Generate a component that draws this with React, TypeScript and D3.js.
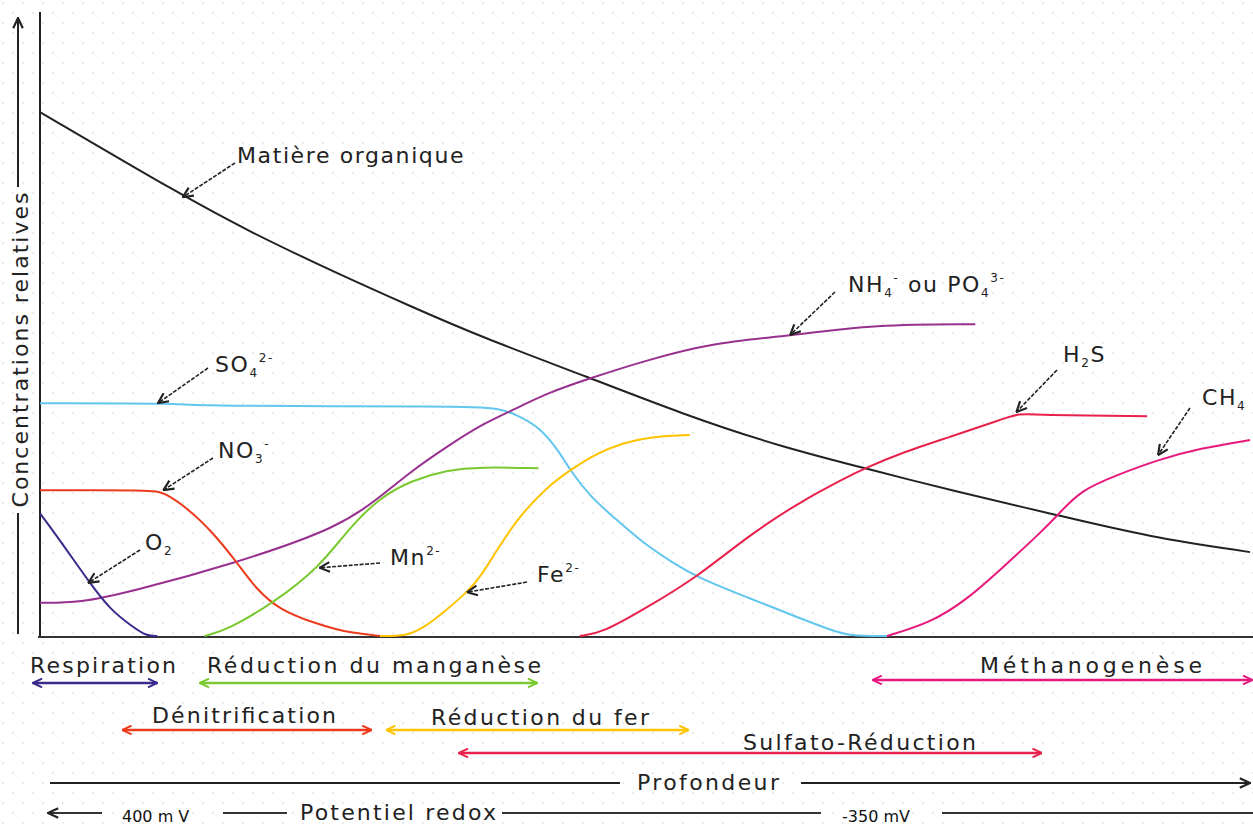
import React, { useEffect, useRef } from 'react';
import * as d3 from 'd3';

// profondeur relative (0-100) -> concentration relative (0-100)
const matiereOrganique = [[0, 83.7], [11.8, 70.3], [17.4, 64.5], [24.8, 57.7], [30.6, 52.7], [36.4, 47.8], [45.5, 41.2], [52.9, 35.6], [61.2, 30.2], [69.4, 26.2], [75.2, 23.3], [84.1, 19.3], [91.7, 15.8], [100, 13.4]];
const sulfate = [[0, 37.2], [12, 37.2], [12.4, 36.7], [35, 36.7], [38, 36.4], [39.4, 35.3], [41.3, 33.4], [43, 29.2], [43.8, 26.5], [45.5, 22.2], [47.4, 19.0], [49.8, 14.9], [52.3, 11.7], [54.3, 9.4], [58.4, 6.2], [62.6, 3.0], [65.3, 1.0], [66.9, 0], [70, 0]];
const nitrate = [[0, 23.3], [9.3, 23.3], [10.2, 23.0], [12.4, 20.1], [14.3, 16.5], [16.3, 11.7], [17.9, 7.4], [19.8, 4.2], [22.6, 2.1], [24.6, 1.0], [25.6, 0.6], [28.1, 0]];
const oxygene = [[0, 19.6], [1.65, 15.3], [4.1, 8.5], [5.8, 4.2], [7.7, 1.4], [8.8, 0], [9.7, 0]];
const ammonium = [[0, 5.3], [3.3, 5.3], [7.4, 7.0], [16.3, 11.7], [24.8, 17.4], [28.1, 22.2], [30.8, 26.5], [33.6, 30.2], [36.4, 33.7], [39.1, 36.1], [41.9, 38.8], [45.5, 41.2], [50.2, 44.1], [55.6, 46.8], [61.2, 47.8], [69.2, 49.8], [77.3, 49.8]];
const manganese = [[13.6, 0], [15.5, 1.0], [19.3, 5.3], [23.1, 11.0], [25.4, 16.9], [28.1, 22.2], [30.8, 24.9], [33.6, 26.5], [36.4, 27.0], [41.2, 26.8]];
const fer = [[28.1, 0], [30.3, 0], [31.7, 1.3], [33.3, 3.7], [35.3, 7.0], [36.4, 9.4], [38, 14.5], [39.7, 19.3], [41.9, 23.8], [43.8, 26.5], [46, 29.2], [48.2, 30.8], [50.2, 31.8], [53.7, 32.1]];
const sulfure = [[44.6, 0], [46.5, 0.5], [50.2, 4.6], [54.3, 9.4], [58.4, 15.8], [62.6, 21.2], [66.7, 25.4], [68.2, 26.8], [71.1, 29.2], [75.2, 31.8], [79.3, 34.5], [81, 35.6], [82.2, 35.3], [91.5, 35.1]];
const methane = [[70, 0], [73.6, 2.1], [76.6, 5.8], [79.6, 11.0], [82.9, 16.9], [84.1, 19.3], [86, 23.3], [89, 25.7], [92.3, 28.1], [95.9, 30], [100, 31.3]];

// points désignés par les flèches (sur les courbes)
const pointes = [[11.8, 70.1], [9.75, 37.2], [10.2, 23.3], [4.0, 8.5], [23.1, 10.9], [35.3, 7.0], [62.0, 48.1], [80.7, 35.8], [92.4, 28.9]];

// processus et leur étendue en profondeur
const processus = ['Respiration', 'Réduction du manganèse', 'Dénitrification', 'Réduction du fer', 'Sulfato-Réduction', 'Méthanogenèse'];
const debut = [-0.6, 13.2, 6.8, 28.6, 34.6, 68.8];
const fin = [9.7, 41.1, 27.4, 53.6, 82.8, 100.2];

const W = 1253, H = 827;
const FONT = '"DejaVu Sans", Verdana, sans-serif';

const Diagramme = () => {
    const ref = useRef<SVGSVGElement | null>(null);

    useEffect(() => {
        const svg = d3.select(ref.current);
        svg.selectAll('*').remove();

        var x = d3.scaleLinear().domain([0, 100]).range([40, 1250]);
        var y = d3.scaleLinear().domain([0, 100]).range([636, 10]);

        const defs = svg.append('defs');

        // fond pointillé
        const pat = defs.append('pattern').attr('id', 'dots')
            .attr('width', 20).attr('height', 20).attr('patternUnits', 'userSpaceOnUse');
        pat.append('circle').attr('cx', 3).attr('cy', 3).attr('r', 0.9).attr('fill', '#e2e2e2');
        pat.append('circle').attr('cx', 13).attr('cy', 13).attr('r', 0.9).attr('fill', '#e2e2e2');
        svg.append('rect').attr('width', W).attr('height', H).attr('fill', '#fff');
        svg.append('rect').attr('width', W).attr('height', H).attr('fill', 'url(#dots)');

        // markers
        const mk = (id: string, color: string, size: number) => {
            defs.append('marker').attr('id', id)
                .attr('viewBox', '0 0 10 10').attr('refX', 9.5).attr('refY', 5)
                .attr('markerUnits', 'userSpaceOnUse')
                .attr('markerWidth', size).attr('markerHeight', size)
                .attr('orient', 'auto-start-reverse')
                .append('path').attr('d', 'M1,1 L9.5,5 L1,9')
                .attr('fill', 'none').attr('stroke', color).attr('stroke-width', 1.8);
        };
        mk('fl-noir', '#222', 12);

        //////////
        // AXES //
        //////////
        svg.append('line').attr('x1', x(0)).attr('x2', x(0)).attr('y1', 12).attr('y2', 637)
            .attr('stroke', '#222').attr('stroke-width', 2);
        svg.append('line').attr('x1', x(0) - 2).attr('x2', W).attr('y1', 637).attr('y2', 637)
            .attr('stroke', '#333').attr('stroke-width', 2);

        // titre axe vertical
        svg.append('text')
            .attr('transform', 'translate(28,350) rotate(-90)')
            .attr('text-anchor', 'middle')
            .attr('font-family', FONT).attr('font-size', 22).attr('fill', '#222')
            .attr('textLength', 315).attr('lengthAdjust', 'spacing')
            .text('Concentrations relatives');
        svg.append('line').attr('x1', 18).attr('x2', 18).attr('y1', 187).attr('y2', 18)
            .attr('stroke', '#222').attr('stroke-width', 2).attr('marker-end', 'url(#fl-noir)');
        svg.append('line').attr('x1', 18).attr('x2', 18).attr('y1', 513).attr('y2', 634)
            .attr('stroke', '#222').attr('stroke-width', 2);

        ////////////
        // COURBES //
        ////////////
        const line = d3.line<number[]>()
            .x(d => x(d[0]))
            .y(d => y(d[1]))
            .curve(d3.curveBasis);

        const series: [number[][], string][] = [
            [matiereOrganique, '#222222'],
            [sulfate, '#62c6ee'],
            [ammonium, '#98308f'],
            [nitrate, '#ec3b1c'],
            [oxygene, '#3b2a8c'],
            [manganese, '#7bc930'],
            [fer, '#ffc300'],
            [sulfure, '#e8224c'],
            [methane, '#e8197c'],
        ];
        series.forEach(([data, color]) => {
            svg.append('path')
                .datum(data)
                .attr('fill', 'none')
                .attr('stroke', color)
                .attr('stroke-width', 2)
                .attr('d', line);
        });

        //////////////
        // ETIQUETTES //
        //////////////
        const etiquettes: [string, string][][] = [
            [['Matière organique', 'n']],
            [['SO', 'n'], ['4', 'sub'], ['2-', 'sup']],
            [['NO', 'n'], ['3', 'sub'], ['-', 'sup']],
            [['O', 'n'], ['2', 'sub']],
            [['Mn', 'n'], ['2-', 'sup']],
            [['Fe', 'n'], ['2-', 'sup']],
            [['NH', 'n'], ['4', 'sub'], ['-', 'sup'], [' ou PO', 'n'], ['4', 'sub'], ['3-', 'sup']],
            [['H', 'n'], ['2', 'sub'], ['S', 'n']],
            [['CH', 'n'], ['4', 'sub']],
        ];
        const queues = [[235, 163], [208, 368], [213, 458], [140, 550], [380, 563], [527, 582], [835, 292], [1057, 370], [1190, 408]];
        const positions = [[237, 163], [215, 372], [218, 458], [145, 550], [390, 565], [537, 582], [848, 292], [1063, 362], [1202, 405]];

        etiquettes.forEach((parts, i) => {
            svg.append('line')
                .attr('x1', queues[i][0]).attr('y1', queues[i][1])
                .attr('x2', x(pointes[i][0])).attr('y2', y(pointes[i][1]))
                .attr('stroke', '#222').attr('stroke-width', 1.6)
                .attr('stroke-dasharray', '4 1.5')
                .attr('marker-end', 'url(#fl-noir)');
            const t = svg.append('text')
                .attr('x', positions[i][0]).attr('y', positions[i][1])
                .attr('font-family', FONT).attr('font-size', 22).attr('fill', '#222')
                .attr('letter-spacing', 1.6);
            let cur = 0;
            parts.forEach(([s, kind]) => {
                const off = kind === 'sub' ? 5 : kind === 'sup' ? -10 : 0;
                t.append('tspan')
                    .attr('dy', off - cur)
                    .attr('font-size', kind === 'n' ? 22 : 12)
                    .text(s);
                cur = off;
            });
        });

        ///////////////
        // PROCESSUS //
        ///////////////
        const couleurs = ['#3b2a8c', '#7bc930', '#ec3b1c', '#ffc300', '#e8224c', '#e8197c'];
        const txtX = [30, 207, 152, 431, 743, 980];
        const txtY = [673, 673, 723, 725, 750, 673];
        const txtL = [146, 334, 184, 218, 233, 222];
        const flY = [683, 683, 730, 730, 753, 680];

        processus.forEach((p, i) => {
            mk('fl-' + i, couleurs[i], 11);
            svg.append('line')
                .attr('x1', x(debut[i])).attr('x2', x(fin[i]))
                .attr('y1', flY[i]).attr('y2', flY[i])
                .attr('stroke', couleurs[i]).attr('stroke-width', 2.5)
                .attr('marker-start', 'url(#fl-' + i + ')')
                .attr('marker-end', 'url(#fl-' + i + ')');
            svg.append('text')
                .attr('x', txtX[i]).attr('y', txtY[i])
                .attr('font-family', FONT).attr('font-size', 22).attr('fill', '#222')
                .attr('textLength', txtL[i]).attr('lengthAdjust', 'spacing')
                .text(p);
        });

        // Profondeur
        svg.append('line').attr('x1', 50).attr('x2', 620).attr('y1', 783).attr('y2', 783)
            .attr('stroke', '#222').attr('stroke-width', 2);
        svg.append('line').attr('x1', 801).attr('x2', 1250).attr('y1', 783).attr('y2', 783)
            .attr('stroke', '#222').attr('stroke-width', 2).attr('marker-end', 'url(#fl-noir)');
        svg.append('text').attr('x', 637).attr('y', 790)
            .attr('font-family', FONT).attr('font-size', 22).attr('fill', '#222')
            .attr('textLength', 142).attr('lengthAdjust', 'spacing')
            .text('Profondeur');

        // Potentiel redox
        const segs = [[48, 102], [223, 287], [502, 821], [942, 1253]];
        segs.forEach((s, i) => {
            svg.append('line').attr('x1', s[1]).attr('x2', s[0]).attr('y1', 813).attr('y2', 813)
                .attr('stroke', '#333').attr('stroke-width', 2)
                .attr('marker-end', i === 0 ? 'url(#fl-noir)' : null);
        });
        svg.append('text').attr('x', 300).attr('y', 820)
            .attr('font-family', FONT).attr('font-size', 22).attr('fill', '#222')
            .attr('textLength', 196).attr('lengthAdjust', 'spacing')
            .text('Potentiel redox');
        svg.append('text').attr('x', 122).attr('y', 822)
            .attr('font-family', FONT).attr('font-size', 16).attr('fill', '#111')
            .text('400 m V');
        svg.append('text').attr('x', 842).attr('y', 822)
            .attr('font-family', FONT).attr('font-size', 16).attr('fill', '#111')
            .text('-350 mV');
    }, []);

    return (
        <svg ref={ref} width={W} height={H}
            style={{ position: 'absolute', left: 0, top: 0, display: 'block' }} />
    );
};

export default function App() {
    return <Diagramme />;
}
